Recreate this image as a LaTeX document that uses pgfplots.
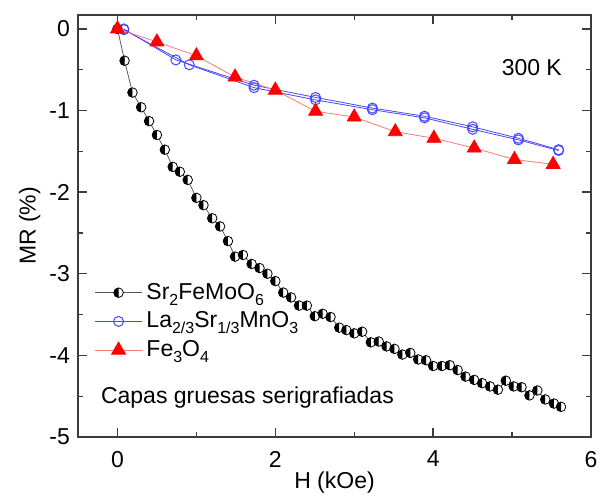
\documentclass[border=0pt]{standalone}
\usepackage{fontspec}
\setmainfont{Liberation Sans}
\usepackage{pgfplots}
\pgfplotsset{compat=1.18}
\usetikzlibrary{plotmarks}
\definecolor{axgray}{RGB}{60,60,60}
\definecolor{bluel}{RGB}{70,70,255}
\definecolor{redl}{RGB}{255,120,120}
\newcommand\sub[1]{\raisebox{-0.5ex}{\fontsize{8}{9}\selectfont #1}}
\begin{document}
\fontsize{11.5}{14}\selectfont
\begin{tikzpicture}
\begin{axis}[
  name=ax,
  scale only axis,
  width=256.5pt, height=211pt,
  xmin=-0.5, xmax=6, ymin=-5, ymax=0.17,
  xtick={0,2,4,6}, ytick={-5,-4,-3,-2,-1,0},
  minor x tick num=1, minor y tick num=1,
  tick align=inside,
  major tick length=4.5pt, minor tick length=2.5pt,
  axis line style={axgray, line width=1pt},
  every tick/.style={axgray, line width=0.7pt},
  /pgf/number format/assume math mode=true,
  xticklabel style={yshift=-3pt},
  xlabel={H (kOe)}, ylabel={MR (\%)},
  xlabel style={at={(axis description cs:0.5,-0.107)}, anchor=center},
  ylabel style={at={(axis description cs:-0.094,0.5)}, anchor=center},
  legend style={at={(axis description cs:0.02,0.385)}, anchor=north west,
    draw=none, fill=none, row sep=0.6pt, font=\fontsize{11.5}{14}\selectfont},
  legend cell align=left,
  legend image code/.code={\draw[mark repeat=2,mark phase=2] plot coordinates {(0pt,0pt)(11.75pt,0pt)(23.5pt,0pt)};},
  clip=false,
]
\addplot[color=gray!70!black, line width=0.4pt, mark=halfcircle*, mark size=2.4pt,
  mark options={rotate=-90, fill=white, draw=black, solid, line width=0.4pt}, mark color=black]
coordinates {
(0,0)(0.09,-0.39)(0.19,-0.78)(0.30,-0.96)(0.40,-1.13)(0.50,-1.30)(0.60,-1.48)
(0.70,-1.69)(0.79,-1.75)(0.89,-1.85)(1.00,-2.07)(1.09,-2.16)(1.20,-2.32)(1.30,-2.42)
(1.40,-2.60)(1.49,-2.79)(1.59,-2.77)(1.70,-2.88)(1.80,-2.93)(1.90,-3.00)(2.00,-3.09)
(2.10,-3.23)(2.20,-3.29)(2.30,-3.39)(2.40,-3.39)(2.50,-3.52)(2.60,-3.49)(2.70,-3.53)
(2.81,-3.66)(2.90,-3.69)(3.00,-3.73)(3.10,-3.71)(3.21,-3.84)(3.31,-3.83)(3.41,-3.89)
(3.51,-3.92)(3.61,-3.99)(3.71,-3.97)(3.81,-4.05)(3.91,-4.06)(4.00,-4.13)(4.11,-4.13)
(4.21,-4.12)(4.31,-4.18)(4.41,-4.26)(4.52,-4.30)(4.62,-4.34)(4.72,-4.38)(4.82,-4.42)
(4.92,-4.31)(5.02,-4.38)(5.12,-4.39)(5.22,-4.49)(5.32,-4.43)(5.42,-4.54)(5.53,-4.59)
(5.62,-4.63)
};
\addlegendentry{Sr\sub{2}FeMoO\sub{6}}
\addplot[color=bluel, line width=0.4pt, mark=o, mark size=2.5pt, mark options={solid, line width=0.5pt}]
coordinates {
(0.08,0)(0.74,-0.38)(1.73,-0.69)(2.51,-0.84)(3.23,-0.97)(3.89,-1.07)(4.50,-1.20)(5.08,-1.34)(5.59,-1.48)
};
\addlegendentry{La\sub{2/3}Sr\sub{1/3}MnO\sub{3}}
\addplot[forget plot, color=bluel, line width=0.4pt, mark=o, mark size=2.5pt, mark options={solid, line width=0.5pt}]
coordinates {
(0.08,-0.01)(0.91,-0.44)(1.73,-0.72)(2.51,-0.87)(3.23,-0.99)(3.89,-1.09)(4.50,-1.23)(5.08,-1.36)(5.59,-1.49)
};
\addplot[color=redl, line width=0.4pt, mark=triangle*, mark size=4pt, mark options={solid, fill=red, draw=red}]
coordinates {
(0,0)(0.5,-0.16)(1.0,-0.33)(1.49,-0.59)(2.0,-0.75)(2.51,-1.01)(3.0,-1.08)(3.52,-1.26)(4.01,-1.34)(4.52,-1.46)(5.03,-1.60)(5.52,-1.66)
};
\addlegendentry{Fe\sub{3}O\sub{4}}
\node[anchor=center] at (axis cs:5.25,-0.48) {300 K};
\node[anchor=west] at (axis cs:-0.31,-4.52) {Capas gruesas serigrafiadas};
\end{axis}
\pgfresetboundingbox
\path ([shift={(-39pt,-29.5pt)}]ax.south west) rectangle ([shift={(5.5pt,7.5pt)}]ax.north east);
\end{tikzpicture}
\end{document}
